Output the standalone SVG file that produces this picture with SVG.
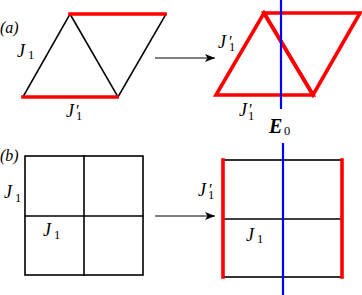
<svg xmlns="http://www.w3.org/2000/svg" width="362" height="295" viewBox="0 0 362 295">
<style>
.k{stroke:#000;stroke-width:1.6;fill:none;stroke-linecap:square}
.r{stroke:#f00;stroke-width:3.6;fill:none;stroke-linejoin:miter;stroke-linecap:square}
.b{stroke:#00f;stroke-width:2.2;fill:none}
.a{stroke:#000;stroke-width:1;fill:none}
text{font-family:"Liberation Serif","DejaVu Serif",serif;font-style:italic;font-size:18px;fill:#000}
.p{font-size:16px}
.s{font-size:12.5px;font-style:normal}
.q{font-size:16px;font-style:normal}
.e{font-weight:bold;font-size:20px}
</style>
<defs>
<marker id="ah" viewBox="0 0 10 8" refX="10" refY="4" markerWidth="10" markerHeight="8" markerUnits="userSpaceOnUse" orient="auto">
<path d="M0,0 L10,4 L0,8 L2.5,4 Z" fill="#000"/>
</marker>
</defs>
<g id="labels">
<text class="p" x="0" y="33">(a)</text>
<text class="p" x="0" y="161">(b)</text>
</g>
<g id="lattice-a-left">
<line class="k" x1="23" y1="97" x2="70" y2="14"/>
<line class="k" x1="70" y1="14" x2="118" y2="97"/>
<line class="k" x1="118" y1="97" x2="166" y2="14"/>
<line class="r" x1="70" y1="14" x2="165" y2="14"/>
<line class="r" x1="23" y1="97" x2="117" y2="97"/>
<text x="17" y="57">J<tspan class="s" x="28" y="58.5">1</tspan></text>
<text x="66" y="117">J<tspan class="q" x="76" y="116">′</tspan><tspan class="s" x="76" y="120">1</tspan></text>
</g>
<g id="lattice-a-right">
<polygon class="r" points="216,95 264,13 313,95"/>
<polygon class="r" points="264,13 360,13 313,95"/>
<text x="218" y="48">J<tspan class="q" x="229" y="47">′</tspan><tspan class="s" x="229" y="51">1</tspan></text>
<text x="239" y="116">J<tspan class="q" x="249" y="115">′</tspan><tspan class="s" x="248" y="119.5">1</tspan></text>
<text class="e" x="269" y="133">E<tspan class="s" style="font-weight:normal" x="284" y="135">0</tspan></text>
</g>
<g id="lattice-b-left">
<rect class="k" x="25" y="156" width="118" height="119"/>
<line class="k" x1="84" y1="156" x2="84" y2="275"/>
<line class="k" x1="25" y1="216" x2="143" y2="216"/>
<text x="4" y="198">J<tspan class="s" x="15" y="202">1</tspan></text>
<text x="43" y="236">J<tspan class="s" x="54" y="239">1</tspan></text>
</g>
<g id="lattice-b-right">
<rect class="k" x="223" y="160" width="119" height="117"/>
<line class="k" x1="283" y1="160" x2="283" y2="277"/>
<line class="k" x1="223" y1="219" x2="342" y2="219"/>
<line class="r" x1="223" y1="160" x2="223" y2="277"/>
<line class="r" x1="342" y1="160" x2="342" y2="277"/>
<text x="198" y="196">J<tspan class="q" x="209" y="195">′</tspan><tspan class="s" x="208" y="199">1</tspan></text>
<text x="246" y="241">J<tspan class="s" x="257" y="243">1</tspan></text>
</g>
<g id="connectors">
<line class="a" x1="155" y1="58" x2="215" y2="58" marker-end="url(#ah)"/>
<line class="a" x1="155" y1="216" x2="215" y2="216" marker-end="url(#ah)"/>
<line class="b" x1="281" y1="0" x2="281" y2="109"/>
<line class="b" x1="283" y1="143" x2="283" y2="295"/>
</g>
</svg>
